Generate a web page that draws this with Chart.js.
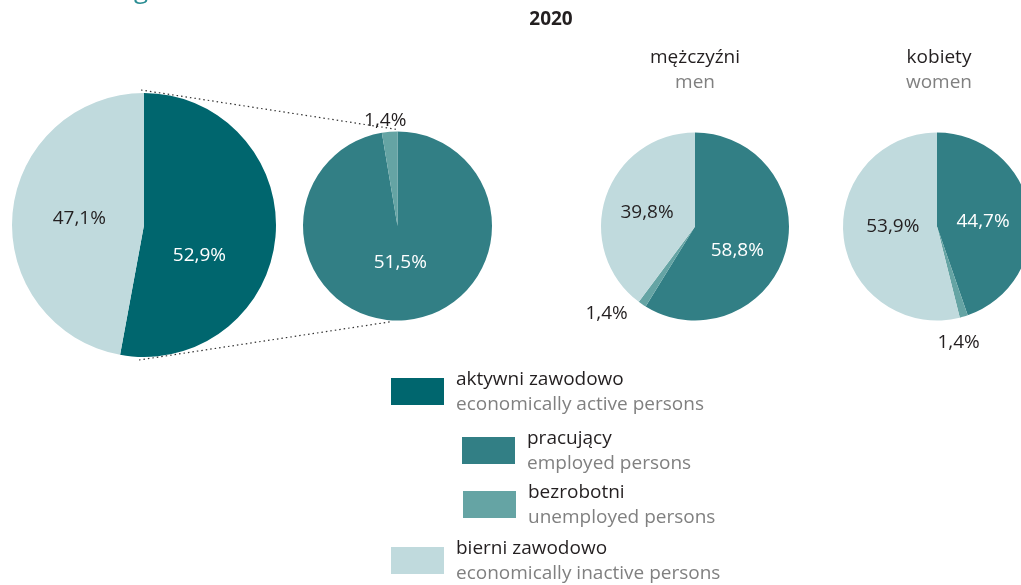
<!DOCTYPE html>
<html>
<head>
<meta charset="utf-8">
<script src="https://cdn.jsdelivr.net/npm/chart.js@4.4.1/dist/chart.umd.min.js"></script>
<style>
  html, body { margin: 0; padding: 0; background: #fff; overflow: hidden; }
  #page { position: relative; width: 1021px; height: 585px; overflow: hidden; font-family: "Open Sans", sans-serif; }
  #page canvas { position: absolute; left: 0; top: 0; }
  .t { position: absolute; white-space: nowrap; line-height: 1; }
  .pl { color: #231f20; }
  .en { color: #808080; }
  .hd { transform: translateX(-50%); text-align: center; font-size: 19px; }
  .sw { position: absolute; width: 53px; height: 27px; }
  .lg { font-size: 19px; }
</style>
</head>
<body>
<div id="page">
  <canvas id="pTotal" width="1100" height="585"></canvas>
  <canvas id="pActive" width="1100" height="585"></canvas>
  <canvas id="pMen" width="1100" height="585"></canvas>
  <canvas id="pWomen" width="1100" height="585"></canvas>

  <div class="t" style="left:134px; top:-25px; font-size:26px; color:#2a8d93;">g</div>
  <div class="t pl" style="left:551px; top:9px; transform:translateX(-50%); font-size:19px; font-weight:700;">2020</div>

  <div class="t pl hd" style="left:695px; top:47px;">mężczyźni</div>
  <div class="t en hd" style="left:695px; top:72px;">men</div>
  <div class="t pl hd" style="left:939px; top:47px;">kobiety</div>
  <div class="t en hd" style="left:939px; top:72px;">women</div>

  <div class="sw" style="left:391px; top:378px; background:#00666e;"></div>
  <div class="t pl lg" style="left:456px; top:369px;">aktywni zawodowo</div>
  <div class="t en lg" style="left:456px; top:394px;">economically active persons</div>

  <div class="sw" style="left:462px; top:437px; background:#327f85;"></div>
  <div class="t pl lg" style="left:527px; top:428px;">pracujący</div>
  <div class="t en lg" style="left:527px; top:453px;">employed persons</div>

  <div class="sw" style="left:463px; top:491px; background:#65a4a4;"></div>
  <div class="t pl lg" style="left:528px; top:482px;">bezrobotni</div>
  <div class="t en lg" style="left:528px; top:507px;">unemployed persons</div>

  <div class="sw" style="left:391px; top:547px; background:#c0dadd;"></div>
  <div class="t pl lg" style="left:456px; top:538px;">bierni zawodowo</div>
  <div class="t en lg" style="left:456px; top:563px;">economically inactive persons</div>
</div>
<script>
// values (%), 2020
const totalLabels = ['aktywni zawodowo', 'bierni zawodowo'];
const totalValues = [52.9, 47.1];
const activeLabels = ['pracujący', 'bezrobotni'];
const activeValues = [51.5, 1.4];
const genderLabels = ['pracujący', 'bezrobotni', 'bierni zawodowo'];
const menValues = [58.8, 1.4, 39.8];
const womenValues = [44.7, 1.4, 53.9];

const C_ACTIVE = '#00666e', C_EMP = '#327f85', C_UNEMP = '#65a4a4', C_INACT = '#c0dadd';
const DARK = '#231f20';
const CW = 1100, CH = 585;

function fmt(v) { return v.toFixed(1).replace('.', ',') + '%'; }

// label placement: offset from pie centre as fraction of radius, colour
const labelPlaces = {
  pTotal: [[0.42, 0.23, '#fff'], [-0.49, -0.05, DARK]],
  pActive: [[0.03, 0.39, '#fff'], [-0.13, -1.12, DARK]],
  pMen: [[0.45, 0.26, '#fff'], [-0.94, 0.93, DARK], [-0.51, -0.15, DARK]],
  pWomen: [[0.49, -0.05, '#fff'], [0.23, 1.23, DARK], [-0.47, 0.0, DARK]]
};
// pie boxes on the page: centre x, centre y, radius
const boxes = {
  pTotal: [144, 225, 132],
  pActive: [397.5, 226, 94.5],
  pMen: [695, 226.5, 94],
  pWomen: [937, 226.5, 94]
};

const labelPlugin = {
  id: 'pctLabels',
  afterDatasetsDraw(chart) {
    const ctx = chart.ctx;
    const places = labelPlaces[chart.canvas.id];
    const meta = chart.getDatasetMeta(0);
    const vals = chart.data.datasets[0].data;
    ctx.save();
    ctx.font = '19px "Open Sans", sans-serif';
    ctx.textAlign = 'center';
    ctx.textBaseline = 'middle';
    meta.data.forEach((arc, i) => {
      const p = places[i];
      ctx.fillStyle = p[2];
      ctx.fillText(fmt(vals[i]), arc.x + p[0] * arc.outerRadius, arc.y + p[1] * arc.outerRadius);
    });
    ctx.restore();
  }
};

let totalChart = null;
// dotted connectors from the big pie to the pie of active persons
const connectorPlugin = {
  id: 'connectors',
  afterDraw(chart) {
    if (chart.canvas.id !== 'pActive' || !totalChart) return;
    const a = totalChart.getDatasetMeta(0).data[0];
    const b = chart.getDatasetMeta(0).data[0];
    const ctx = chart.ctx;
    ctx.save();
    ctx.strokeStyle = '#333';
    ctx.lineWidth = 1.2;
    ctx.setLineDash([1.5, 3]);
    ctx.beginPath();
    ctx.moveTo(a.x - 3, a.y - a.outerRadius - 3);
    ctx.lineTo(b.x, b.y - b.outerRadius - 2);
    ctx.moveTo(a.x - 5, a.y + a.outerRadius + 3);
    ctx.lineTo(b.x - 5, b.y + b.outerRadius + 1);
    ctx.stroke();
    ctx.restore();
  }
};

function makePie(id, labels, values, colors) {
  const [cx, cy, r] = boxes[id];
  return new Chart(document.getElementById(id), {
    type: 'pie',
    data: { labels: labels, datasets: [{ data: values, backgroundColor: colors, borderWidth: 0 }] },
    options: {
      responsive: false,
      animation: false,
      events: [],
      layout: { padding: { left: cx - r, top: cy - r, right: CW - cx - r, bottom: CH - cy - r } },
      plugins: { legend: { display: false }, tooltip: { enabled: false } }
    },
    plugins: [labelPlugin, connectorPlugin]
  });
}

totalChart = makePie('pTotal', totalLabels, totalValues, [C_ACTIVE, C_INACT]);
makePie('pActive', activeLabels, activeValues, [C_EMP, C_UNEMP]);
makePie('pMen', genderLabels, menValues, [C_EMP, C_UNEMP, C_INACT]);
makePie('pWomen', genderLabels, womenValues, [C_EMP, C_UNEMP, C_INACT]);
</script>
</body>
</html>
